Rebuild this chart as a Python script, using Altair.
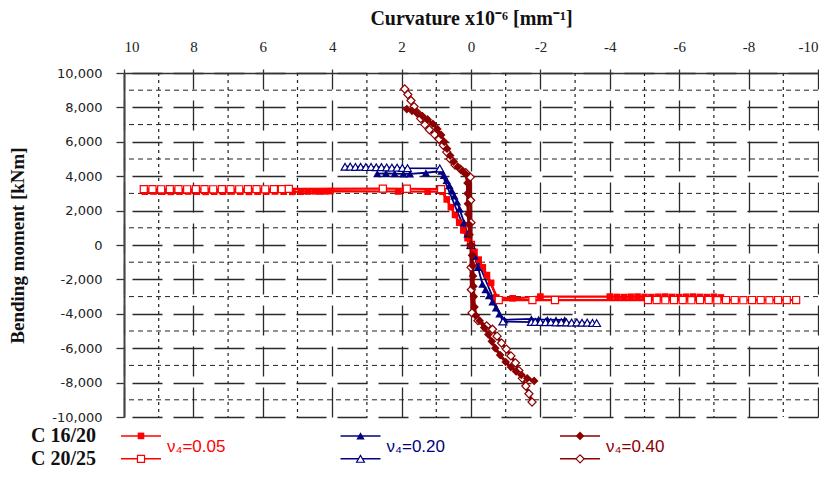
import altair as alt
import pandas as pd

# ---------------- data ----------------
grades = ["C 16/20", "C 20/25"]
nus = ["ν₄=0.05", "ν₄=0.20", "ν₄=0.40"]
x_ticks = [10, 8, 6, 4, 2, 0, -2, -4, -6, -8, -10]
y_ticks = [10000, 8000, 6000, 4000, 2000, 0, -2000, -4000, -6000, -8000, -10000]
x_minor = [9, 7, 5, 3, 1, -1, -3, -5, -7, -9]
y_minor = [9000, 7000, 5000, 3000, 1000, -1000, -3000, -5000, -7000, -9000]

# C 16/20, v4=0.05 (filled squares)
a_pts = [(9.40, 3100), (9.15, 3110), (8.90, 3100), (8.65, 3090), (8.40, 3100), (8.15, 3110),
         (7.90, 3100), (7.65, 3090), (7.40, 3100), (7.15, 3100), (6.90, 3110), (6.65, 3100),
         (6.40, 3090), (6.15, 3100), (5.90, 3100), (5.65, 3110), (5.40, 3100), (5.15, 3090),
         (4.90, 3100), (4.70, 3110), (4.50, 3120), (4.35, 3110), (4.20, 3120), (4.05, 3130),
         (2.10, 3110), (1.25, 3100), (0.82, 3100), (0.70, 2650), (0.58, 2200), (0.46, 1750),
         (0.34, 1300), (0.22, 850), (0.10, 400), (0.00, 0), (-0.10, -400), (-0.22, -850),
         (-0.34, -1300), (-0.46, -1750), (-0.58, -2200), (-0.73, -3050), (-1.20, -3100),
         (-2.00, -3000), (-4.00, -3000), (-4.20, -3020), (-4.40, -3030), (-4.60, -3010),
         (-4.80, -3000), (-5.00, -3020), (-5.20, -3030), (-5.40, -3010), (-5.60, -3000),
         (-5.80, -3020), (-6.00, -3030), (-6.20, -3010), (-6.40, -3000), (-6.60, -3020),
         (-6.80, -3030), (-7.00, -3010), (-7.20, -3050)]
# C 20/25, v4=0.05 (open squares)
b_pts = [(9.43, 3250), (9.18, 3250), (8.93, 3240), (8.68, 3250), (8.43, 3250), (8.18, 3240),
         (7.93, 3250), (7.68, 3250), (7.43, 3240), (7.18, 3250), (6.93, 3250), (6.68, 3240),
         (6.43, 3250), (6.18, 3250), (5.93, 3240), (5.68, 3250), (5.45, 3250), (5.25, 3260),
         (2.54, 3280), (1.85, 3270), (0.86, 3250), (0.00, 0), (-0.80, -3200), (-1.77, -3200),
         (-2.42, -3200), (-5.10, -3200), (-5.35, -3200), (-5.60, -3210), (-5.85, -3200),
         (-6.10, -3200), (-6.35, -3210), (-6.60, -3200), (-6.85, -3200), (-7.10, -3210),
         (-7.35, -3200), (-7.60, -3200), (-7.85, -3210), (-8.10, -3200), (-8.35, -3200),
         (-8.60, -3210), (-8.85, -3200), (-9.10, -3200), (-9.37, -3200)]
# C 16/20, v4=0.20 (filled triangles)
c_pts = [(2.70, 4150), (2.45, 4160), (2.20, 4150), (1.95, 4140), (1.76, 4130), (1.30, 4200),
         (0.85, 4300), (0.78, 4050), (0.70, 3750), (0.62, 3450), (0.55, 3150), (0.48, 2850),
         (0.40, 2500), (0.33, 2100), (0.20, 1300), (0.10, 650), (0.00, 0), (-0.10, -650),
         (-0.20, -1300), (-0.33, -2270), (-0.42, -2600), (-0.52, -2950), (-0.62, -3300),
         (-0.72, -3650), (-0.82, -4000), (-0.96, -4350), (-1.74, -4300), (-1.95, -4330),
         (-2.20, -4340), (-2.45, -4350), (-2.70, -4360)]
# C 20/25, v4=0.20 (open triangles)
d_pts = [(3.63, 4550), (3.48, 4560), (3.33, 4540), (3.18, 4550), (3.03, 4530), (2.88, 4540),
         (2.73, 4520), (2.58, 4530), (2.43, 4510), (2.28, 4500), (2.13, 4500), (1.98, 4480),
         (1.83, 4470), (0.90, 4450), (0.00, 0), (-0.92, -4450), (-1.74, -4480), (-1.85, -4470),
         (-2.00, -4480), (-2.15, -4490), (-2.30, -4480), (-2.45, -4500), (-2.60, -4490),
         (-2.75, -4500), (-2.90, -4510), (-3.05, -4500), (-3.20, -4520), (-3.35, -4510),
         (-3.50, -4530), (-3.62, -4540)]
# C 16/20, v4=0.40 (filled diamonds)
e_pts = [(1.85, 7900), (1.70, 7800), (1.55, 7650), (1.40, 7500), (1.25, 7300), (1.10, 7050),
         (0.97, 6750), (0.86, 6400), (0.77, 6000), (0.69, 5600), (0.60, 5200), (0.50, 4850),
         (0.38, 4550), (0.25, 4300), (0.14, 4100), (0.10, 3600), (0.10, 3000), (0.09, 2400),
         (0.08, 1800), (0.06, 1200), (0.04, 600), (0.00, 0), (-0.03, -600), (-0.05, -1200),
         (-0.06, -1800), (-0.07, -2400), (-0.08, -3000), (-0.10, -3600), (-0.14, -4100),
         (-0.25, -4400), (-0.38, -4800), (-0.50, -5200), (-0.60, -5600), (-0.70, -6000),
         (-0.84, -6400), (-1.00, -6800), (-1.15, -7100), (-1.30, -7350), (-1.45, -7550),
         (-1.62, -7750), (-1.82, -7900)]
# C 20/25, v4=0.40 (open diamonds)
f_pts = [(1.91, 9070), (1.82, 8750), (1.73, 8400), (1.64, 8050), (1.55, 7700), (1.45, 7350),
         (1.33, 7000), (1.20, 6700), (1.05, 6420), (0.92, 6150), (0.80, 5800), (0.70, 5400),
         (0.60, 5000), (0.46, 4650), (0.30, 4400), (0.15, 4200), (0.02, 3950), (0.01, 2600),
         (0.00, 1300), (0.00, 0), (0.00, -1300), (-0.01, -2600), (-0.03, -3950), (-0.20, -4400),
         (-0.45, -4700), (-0.62, -4900), (-0.75, -5300), (-0.88, -5700), (-1.02, -6050),
         (-1.15, -6450), (-1.28, -6850), (-1.38, -7300), (-1.48, -7750), (-1.58, -8200),
         (-1.67, -8650), (-1.76, -9130)]

# ---------------- styles ----------------
colors = ["#ff0000", "#000080", "#8b0000"]
shapes = ["square", "triangle-up", "diamond"]
sizes_filled = [44, 70, 75]
sizes_open = [50, 62, 66]
line_widths = [2.2, 1.8, 3]

series = [
    ("A", 0, 0, a_pts), ("B", 1, 0, b_pts),
    ("C", 0, 1, c_pts), ("D", 1, 1, d_pts),
    ("F", 1, 2, f_pts), ("E", 0, 2, e_pts),
]

rows = []
for key, g, n, pts in series:
    for i, (xv, yv) in enumerate(pts):
        rows.append({"series": key, "grade": grades[g], "nu": nus[n], "x": xv, "y": yv, "order": i})
df = pd.DataFrame(rows)

minus_fix = "replace(format(datum.value, ','), '\u2212', '-')"

x_enc = alt.X(
    "x:Q",
    scale=alt.Scale(domain=[-10, 10], reverse=True, nice=False, zero=False),
    axis=alt.Axis(
        orient="top", values=x_ticks, labelExpr=minus_fix,
        title="Curvature x10⁻⁶ [mm⁻¹]", titleFont="Liberation Serif", titleFontWeight="bold",
        titleFontSize=20, titleColor="#111", titlePadding=11,
        labelFont="Liberation Serif", labelFontSize=15, labelColor="#222", labelPadding=15,
        tickSize=4, tickColor="#333", tickWidth=1.3,
        domainColor="#333", domainWidth=1.6,
        grid=True, gridColor="#2a2a2a", gridWidth=1.3, gridDash=[30, 11],
    ),
)
y_enc = alt.Y(
    "y:Q",
    scale=alt.Scale(domain=[-10000, 10000], nice=False),
    axis=alt.Axis(
        values=y_ticks, labelExpr=minus_fix,
        title="Bending moment [kNm]", titleFont="Liberation Serif", titleFontWeight="bold",
        titleFontSize=19, titleColor="#111", titlePadding=24,
        labelFont="DejaVu Sans", labelFontSize=13, labelColor="#222", labelPadding=14,
        tickSize=8, tickColor="#333", tickWidth=1.3,
        domainColor="#444", domainWidth=2,
        grid=True, gridColor="#2a2a2a", gridWidth=1.3, gridDash=[30, 11],
    ),
)

color_scale = alt.Scale(domain=nus, range=colors)

grid_x = alt.Chart(pd.DataFrame({"x": x_minor})).mark_rule(
    color="#222", strokeDash=[3, 4], strokeWidth=1.2).encode(x=x_enc)
grid_y = alt.Chart(pd.DataFrame({"y": y_minor})).mark_rule(
    color="#222", strokeDash=[5, 4], strokeWidth=1).encode(y=y_enc)

layers = [grid_x, grid_y]
for key, g, n, pts in series:
    sub = df[df["series"] == key]
    layers.append(alt.Chart(sub).mark_line(strokeWidth=line_widths[n], color=colors[n]).encode(
        x=x_enc, y=y_enc, order="order:Q"))
for key, g, n, pts in series:
    sub = df[df["series"] == key]
    if g == 0:
        mk = alt.Chart(sub).mark_point(filled=True, opacity=1, size=sizes_filled[n],
                                       shape=shapes[n], color=colors[n])
    else:
        mk = alt.Chart(sub).mark_point(filled=False, opacity=1, size=sizes_open[n],
                                       shape=shapes[n], stroke=colors[n], fill="white",
                                       strokeWidth=1.2)
    layers.append(mk.encode(x=x_enc, y=y_enc))

main = alt.layer(*layers).properties(width=694, height=344)

# ---------------- custom legend panel ----------------
leg_rows = []
for g in range(2):
    for n in range(3):
        leg_rows.append({"row": g, "col": n, "nu": nus[n], "grade": grades[g]})
leg_df = pd.DataFrame(leg_rows)
lab_df = pd.DataFrame({"col": [0, 1, 2], "row": [0.5, 0.5, 0.5], "nu": nus})
grade_df = pd.DataFrame({"grade": grades, "row": [0, 1]})

lx = alt.X("col:Q", scale=alt.Scale(domain=[-0.0774, 3.084], nice=False, zero=False), axis=None)
ly = alt.Y("row:Q", scale=alt.Scale(domain=[-0.52, 1.88], nice=False, zero=False, reverse=True), axis=None)

leg_layers = [
    alt.Chart(leg_df).mark_rule(xOffset=-20, x2Offset=20, strokeWidth=1.5).encode(
        x=lx, x2="col:Q", y=ly, color=alt.Color("nu:N", scale=color_scale, legend=None)),
]
for g in range(2):
    for n in range(3):
        sub = leg_df[(leg_df["row"] == g) & (leg_df["col"] == n)]
        if g == 0:
            mk = alt.Chart(sub).mark_point(filled=True, opacity=1, size=sizes_filled[n],
                                           shape=shapes[n], color=colors[n])
        else:
            mk = alt.Chart(sub).mark_point(filled=False, opacity=1, size=sizes_open[n],
                                           shape=shapes[n], stroke=colors[n], fill="white",
                                           strokeWidth=1.2)
        leg_layers.append(mk.encode(x=lx, y=ly))
leg_layers.append(
    alt.Chart(lab_df).mark_text(align="left", baseline="middle", dx=26, fontSize=17,
                                font="Liberation Sans").encode(
        x=lx, y=ly, text="nu:N", color=alt.Color("nu:N", scale=color_scale, legend=None)))
leg_layers.append(
    alt.Chart(grade_df).mark_text(align="right", baseline="middle", fontSize=20,
                                  font="Liberation Serif", fontWeight="bold", color="#111").encode(
        x=alt.value(-28), y=ly, text="grade:N"))

legend = alt.layer(*leg_layers).properties(width=694, height=55)

chart = alt.vconcat(main, legend, spacing=0).properties(
    padding={"left": 0, "top": 0, "right": 0, "bottom": 0},
    background="white",
).configure_view(stroke="transparent", strokeWidth=0)

chart.save("out.html", embed_options={"renderer": "svg", "actions": False})
